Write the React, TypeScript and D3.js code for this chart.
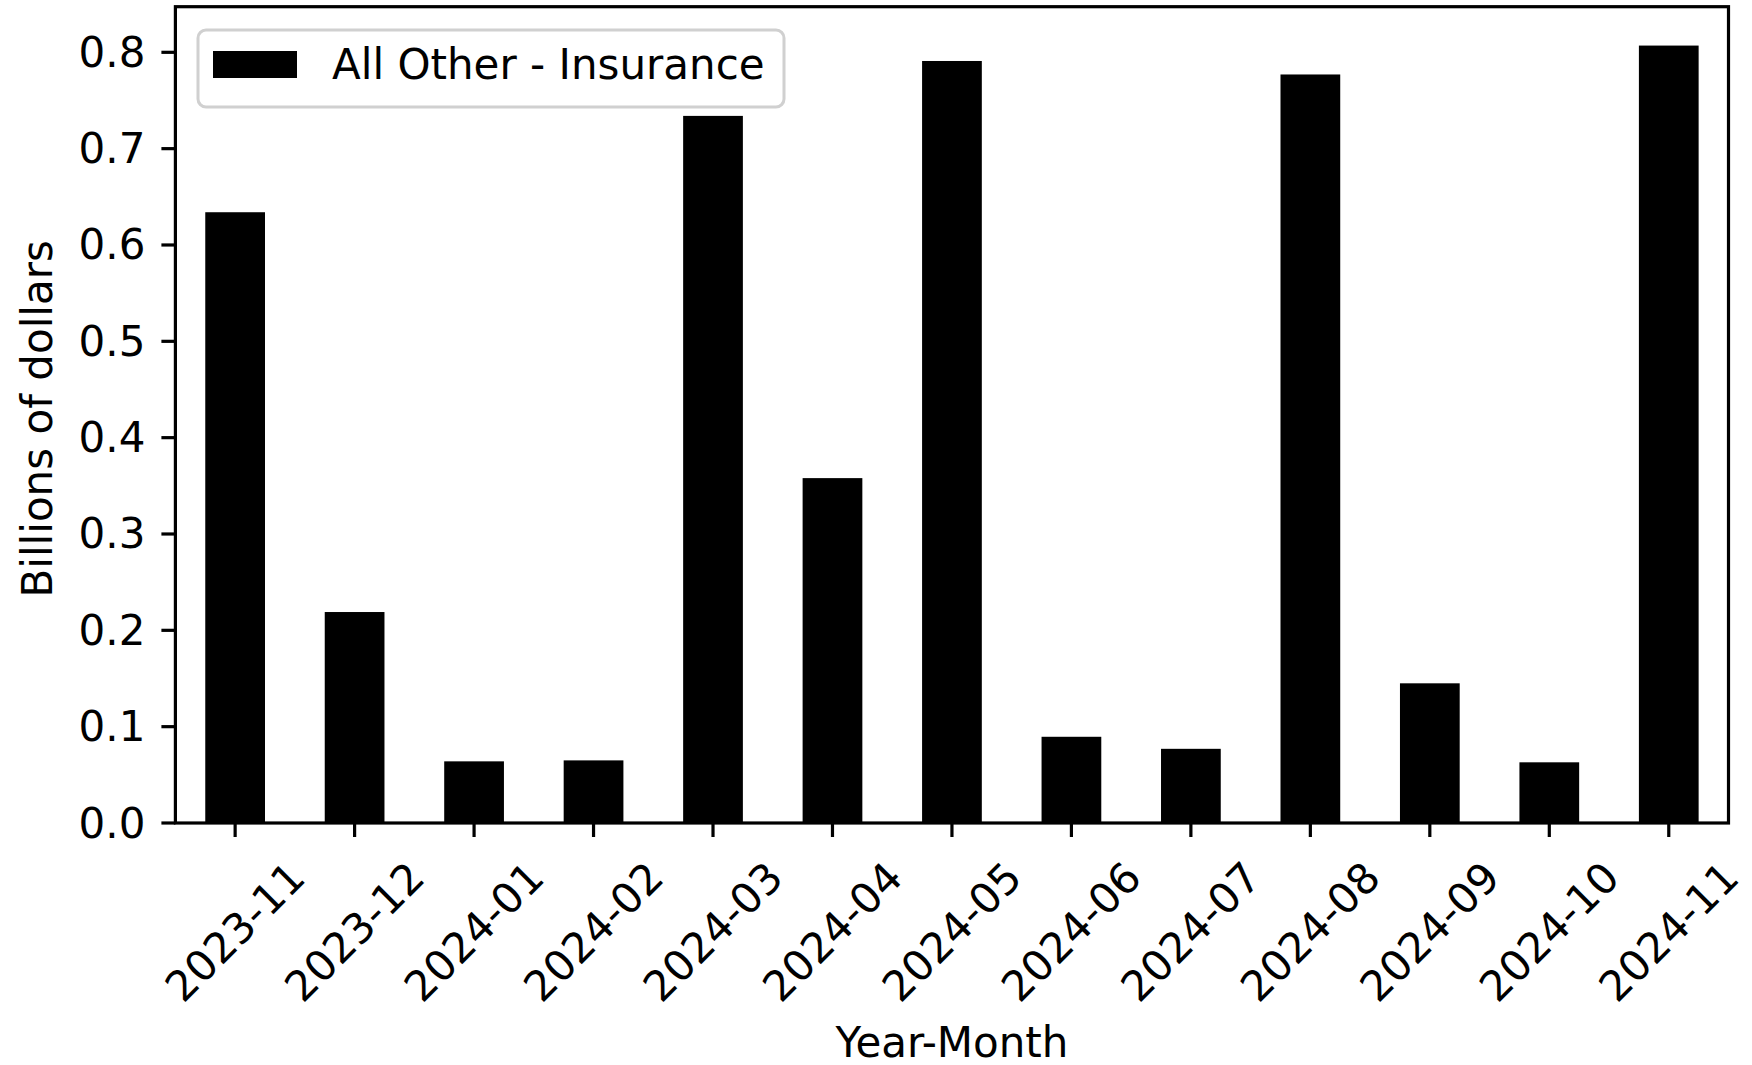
import React, { useEffect, useRef } from "react";
import * as d3 from "d3";

const categories = ["2023-11", "2023-12", "2024-01", "2024-02", "2024-03", "2024-04", "2024-05", "2024-06", "2024-07", "2024-08", "2024-09", "2024-10", "2024-11"];
const values = [0.634, 0.219, 0.064, 0.065, 0.734, 0.358, 0.791, 0.0895, 0.077, 0.777, 0.145, 0.063, 0.807];
const yTicks = [0.0, 0.1, 0.2, 0.3, 0.4, 0.5, 0.6, 0.7, 0.8];
const seriesName = "All Other - Insurance";
const xTitle = "Year-Month";
const yTitle = "Billions of dollars";

const W = 1752, H = 1065;
const L = 175.4, R = 1728.5, T = 6.7, B = 823;
const FONT = "'DejaVu Sans', sans-serif";
const FS = 42;

export default function App() {
  const ref = useRef<SVGSVGElement>(null);
  useEffect(() => {
    const svg = d3.select(ref.current);
    svg.selectAll("*").remove();
    const ymax = d3.max(values)! * 1.05;
    const x = d3.scaleLinear().domain([-0.5, categories.length - 0.5]).range([L, R]);
    const y = d3.scaleLinear().domain([0, ymax]).range([B, T]);
    const g = svg.append("g");
    g.append("rect").attr("x", 0).attr("y", 0).attr("width", W).attr("height", H).attr("fill", "#fff");

    g.selectAll("rect.bar").data(values).enter().append("rect")
      .attr("class", "bar")
      .attr("x", (_, i) => x(i - 0.25))
      .attr("width", (_, i) => x(i + 0.25) - x(i - 0.25))
      .attr("y", d => y(d))
      .attr("height", d => y(0) - y(d))
      .attr("fill", "#000");

    // frame
    g.append("rect").attr("x", L).attr("y", T).attr("width", R - L).attr("height", B - T)
      .attr("fill", "none").attr("stroke", "#000").attr("stroke-width", 3.2);

    // y ticks
    yTicks.forEach(t => {
      g.append("line").attr("x1", L - 14).attr("x2", L).attr("y1", y(t)).attr("y2", y(t))
        .attr("stroke", "#000").attr("stroke-width", 3.2);
      g.append("text").attr("x", L - 30).attr("y", y(t)).attr("text-anchor", "end")
        .attr("dominant-baseline", "central").attr("font-family", FONT).attr("font-size", FS)
        .attr("fill", "#000").text(t.toFixed(1));
    });

    // x ticks
    categories.forEach((c, i) => {
      g.append("line").attr("x1", x(i)).attr("x2", x(i)).attr("y1", B).attr("y2", B + 14)
        .attr("stroke", "#000").attr("stroke-width", 3.2);
      g.append("text")
        .attr("transform", `translate(${x(i)},932) rotate(-45)`)
        .attr("text-anchor", "middle").attr("dominant-baseline", "central")
        .attr("font-family", FONT).attr("font-size", FS).attr("fill", "#000").text(c);
    });

    g.append("text").attr("x", (L + R) / 2).attr("y", 1042).attr("text-anchor", "middle")
      .attr("dominant-baseline", "central").attr("font-family", FONT).attr("font-size", FS)
      .text(xTitle);
    g.append("text").attr("transform", `translate(37,${(T + B) / 2 + 4}) rotate(-90)`)
      .attr("text-anchor", "middle").attr("dominant-baseline", "central")
      .attr("font-family", FONT).attr("font-size", FS).text(yTitle);

    // legend
    const lg = g.append("g");
    lg.append("rect").attr("x", 198).attr("y", 30).attr("width", 586).attr("height", 77)
      .attr("rx", 8).attr("fill", "#fff").attr("fill-opacity", 0.8)
      .attr("stroke", "#d0d0d0").attr("stroke-width", 3);
    lg.append("rect").attr("x", 213).attr("y", 51).attr("width", 84).attr("height", 27).attr("fill", "#000");
    lg.append("text").attr("x", 332).attr("y", 64).attr("dominant-baseline", "central")
      .attr("font-family", FONT).attr("font-size", FS).text(seriesName);
  }, []);
  return (
    <svg ref={ref} width={W} height={H} style={{ position: "absolute", left: 0, top: 0 }} />
  );
}
